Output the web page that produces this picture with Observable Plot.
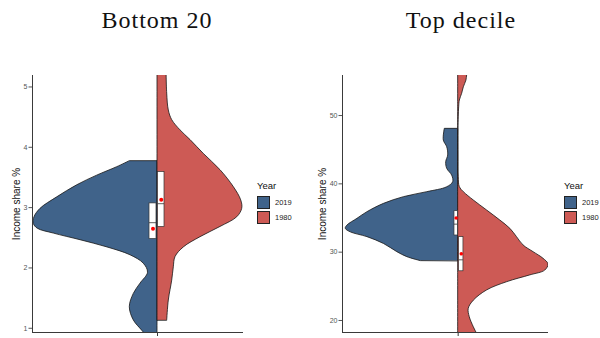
<!DOCTYPE html>
<html><head><meta charset="utf-8">
<script src="https://cdn.jsdelivr.net/npm/d3@7"></script>
<script src="https://cdn.jsdelivr.net/npm/@observablehq/plot@0.6"></script>
<style>
html,body{margin:0;padding:0;background:#fff;overflow:hidden}
#root{position:relative;width:600px;height:338px;overflow:hidden;font-family:"Liberation Sans",Arial,sans-serif;background:#fff}
.title{position:absolute;top:7.6px;width:300px;text-align:center;font-family:"Liberation Serif",serif;font-size:24px;line-height:24px;letter-spacing:1px;color:#111;white-space:nowrap}
.panel{position:absolute;top:48px}
.legend{position:absolute;font-family:"Liberation Sans",Arial,sans-serif;color:#111;white-space:nowrap}
.legend .lt{font-size:9.5px;line-height:10px;margin-bottom:4px}
.legend .row{display:flex;align-items:center;height:15px}
.legend .sw{width:13px;height:13px;border:1px solid #222;box-sizing:border-box;margin-right:5px}
.legend .lab{font-size:7.5px;color:#222}
</style></head><body><div id="root"></div>
<script>
// ---- data ----
const years = ["2019", "1980"];
const yearColors = ["#40638a", "#cd5a55"];
const yLabel = "Income share %";
const panelTitles = ["Bottom 20", "Top decile"];
const bottomTicks = [1, 2, 3, 4, 5];
const topTicks = [20, 30, 40, 50];

// Bottom 20: half-violin outlines (value, relative density width)
const bottom2019Value   = [0.85, 0.96, 1.13, 1.35, 1.57, 1.74, 1.92, 2.07, 2.21, 2.34, 2.46, 2.57, 2.65, 2.73, 2.84, 2.98, 3.17, 3.37, 3.53, 3.67, 3.77];
const bottom2019Density = [10, 15.3, 23.7, 27.7, 23.7, 17, 9.5, 13.7, 27, 50, 77, 103.7, 119.7, 123.7, 123, 117, 100.3, 80.3, 60.3, 40.3, 27.7];
const bottom1980Value   = [1.13, 1.46, 1.79, 2.01, 2.18, 2.34, 2.51, 2.68, 2.84, 2.98, 3.12, 3.34, 3.62, 3.89, 4.12, 4.28, 4.45, 4.61, 4.89, 5.3];
const bottom1980Density = [9.7, 11.3, 14.7, 16.3, 18, 26.3, 43, 63, 79.7, 84.7, 83.7, 76.3, 63, 46.3, 33, 23, 14.7, 11.3, 9.7, 9];
// Bottom 20 box summaries [2019, 1980]
const bottomQ1     = [2.48, 2.68];
const bottomMedian = [2.75, 3.065];
const bottomQ3     = [3.07, 3.59];
const bottomMean   = [2.65, 3.13];

// Top decile
const top2019Value   = [28.7, 29.27, 30.0, 31.2, 32.2, 32.9, 33.42, 33.9, 34.88, 35.85, 37.07, 38.05, 38.78, 39.5, 40.24, 41.2, 42.2, 43.17, 44.15, 45.36, 46.34, 48.05];
const top2019Density = [37.7, 51, 61, 74.4, 91, 107.7, 112.7, 111, 101, 91, 74.4, 54.4, 31, 11, 5, 6, 11, 12, 10, 11, 14.4, 13.4];
const top1980Value   = [17.5, 18.05, 19.0, 20.5, 21.7, 22.9, 24.4, 25.6, 26.6, 27.3, 28.2, 29.03, 30.0, 30.98, 32.2, 33.42, 34.63, 36.1, 37.56, 38.78, 39.5, 41, 44, 48, 51.2, 52.2, 53.18, 54.14, 55.12, 55.86, 56.5];
const top1980Density = [21, 19, 15.7, 11.6, 10.6, 15.7, 29, 49, 72.3, 87.3, 90.6, 85.6, 75.6, 65.6, 59, 52.3, 42.3, 29, 15.7, 5.7, 1.7, 0.5, 0.3, 0.3, 1, 1.7, 4, 5.7, 8.3, 9, 10];
const topQ1     = [32.44, 27.2];
const topMedian = [34.1, 28.88];
const topQ3     = [36.0, 32.2];
const topMean   = [35.0, 29.76];

// ---- build ----
const zip = (v, d) => v.map((value, i) => ({value, density: d[i]}));
const boxes = (q1, med, q3, mean, xs) => years.map((y, i) => ({year: y, q1: q1[i], median: med[i], q3: q3[i], mean: mean[i], x1: xs[i][0], x2: xs[i][1]}));

const axisColor = "#3a3a3a";
function panel(cfg) {
  return Plot.plot({
    width: 300, height: 290,
    marginTop: 27, marginBottom: 6, marginLeft: cfg.ml, marginRight: cfg.mr,
    x: {domain: cfg.xDomain},
    y: {domain: cfg.yDomain},
    style: {fontFamily: "'Liberation Sans', Arial, sans-serif", background: "white", overflow: "visible"},
    marks: [
      Plot.areaX(cfg.s2019, {y: "value", x1: 0, x2: d => -d.density, fill: yearColors[0], stroke: "#151515", strokeWidth: 0.8, curve: "catmull-rom", clip: true}),
      Plot.areaX(cfg.s1980, {y: "value", x1: 0, x2: "density", fill: yearColors[1], stroke: "#151515", strokeWidth: 0.8, curve: "catmull-rom", clip: true}),
      Plot.rect(cfg.boxes, {x1: "x1", x2: "x2", y1: "q1", y2: "q3", fill: "white", stroke: "#333", strokeWidth: 0.7}),
      Plot.ruleY(cfg.boxes, {y: "median", x1: "x1", x2: "x2", stroke: "#333", strokeWidth: 0.8}),
      Plot.dot(cfg.boxes, {x: d => (d.x1 + d.x2) / 2, y: "mean", r: cfg.dotR, fill: "red", stroke: null}),
      Plot.ruleX([cfg.xDomain[0]], {stroke: axisColor, strokeWidth: 1}),
      Plot.ruleY([cfg.yDomain[0]], {stroke: axisColor, strokeWidth: 1}),
      Plot.axisY({ticks: cfg.ticks, tickFormat: d => String(d), tickSize: 3.5, tickPadding: 1.5, fontSize: 7, color: "#555", label: null}),
      Plot.axisX({ticks: [0], tickSize: 4, tickFormat: () => "", label: null, color: axisColor}),
      Plot.text([yLabel], {frameAnchor: "left", textAnchor: "middle", lineAnchor: "middle", rotate: -90, dx: cfg.labelDx, fontSize: 10, fill: "#111"})
    ]
  });
}

const root = document.getElementById("root");
const cfgs = [
  {left: 0, ml: 32, mr: 57, xDomain: [-125, 86], yDomain: [0.93, 5.19], ticks: bottomTicks,
   s2019: zip(bottom2019Value, bottom2019Density), s1980: zip(bottom1980Value, bottom1980Density),
   boxes: boxes(bottomQ1, bottomMedian, bottomQ3, bottomMean, [[-8, -1], [0.5, 7]]), dotR: 2, labelDx: -16,
   titleCenter: 157, legendX: 257},
  {left: 300, ml: 42, mr: 52, xDomain: [-116, 90.6], yDomain: [18.24, 55.86], ticks: topTicks,
   s2019: zip(top2019Value, top2019Density), s1980: zip(top1980Value, top1980Density),
   boxes: boxes(topQ1, topMedian, topQ3, topMean, [[-3.7, -0.3], [1, 5.3]]), dotR: 1.8, labelDx: -20,
   titleCenter: 461, legendX: 564}
];
cfgs.forEach((cfg, i) => {
  const t = document.createElement("div");
  t.className = "title";
  t.style.left = (cfg.titleCenter - 150) + "px";
  t.textContent = panelTitles[i];
  root.appendChild(t);
  const p = document.createElement("div");
  p.className = "panel";
  p.style.left = cfg.left + "px";
  p.appendChild(panel(cfg));
  root.appendChild(p);
  const lg = document.createElement("div");
  lg.className = "legend";
  lg.style.left = cfg.legendX + "px";
  lg.style.top = "181px";
  let html = '<div class="lt">Year</div>';
  years.forEach((y, j) => {
    html += `<div class="row"><div class="sw" style="background:${yearColors[j]}"></div><span class="lab">${y}</span></div>`;
  });
  lg.innerHTML = html;
  root.appendChild(lg);
});
</script></body></html>
